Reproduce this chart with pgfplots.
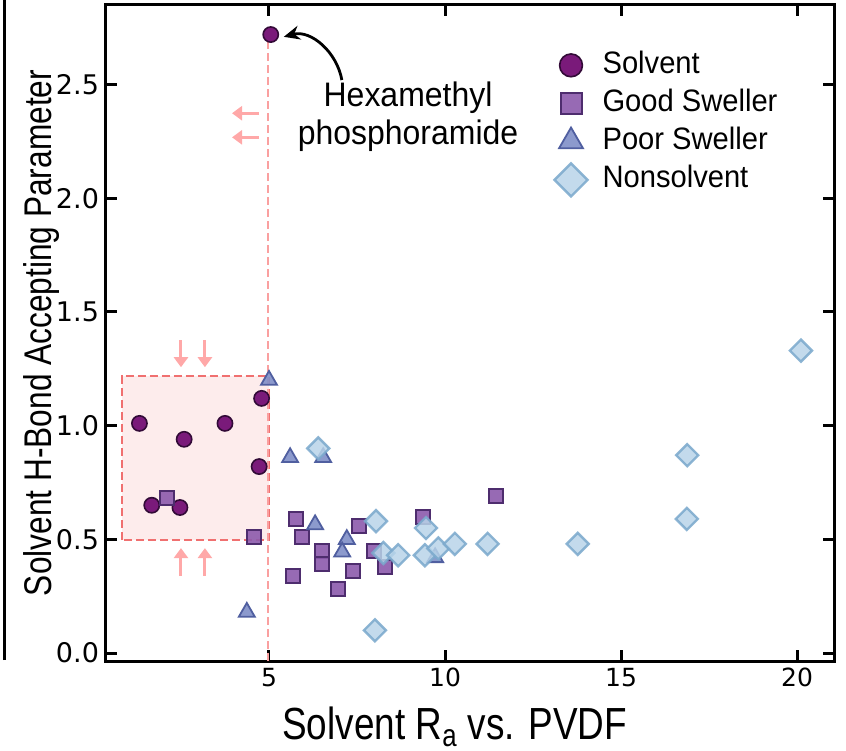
\documentclass[border=0pt]{standalone}
\usepackage{pgfplots}
\pgfplotsset{compat=1.18}
\usetikzlibrary{arrows.meta}
\usepackage{fontspec}
\setmainfont{Liberation Sans}
\newfontfamily\narrowfont[FakeStretch=0.82]{Liberation Sans}
\newfontfamily\legfont[FakeStretch=0.94]{Liberation Sans}
\newfontfamily\tickfont{DejaVu Sans}

\definecolor{solv}{RGB}{122,26,122}
\definecolor{solvedge}{RGB}{50,10,55}
\definecolor{good}{RGB}{140,90,172}
\definecolor{goodedge}{RGB}{78,45,110}
\definecolor{poor}{RGB}{128,143,200}
\definecolor{pooredge}{RGB}{80,95,160}
\definecolor{non}{RGB}{184,212,233}
\definecolor{nonedge}{RGB}{122,168,204}
\definecolor{boxfill}{RGB}{253,236,236}
\definecolor{boxedge}{RGB}{240,112,112}
\definecolor{cutline}{RGB}{250,160,160}
\definecolor{pinkarrow}{RGB}{255,168,168}

\begin{document}
\begin{tikzpicture}
\path[use as bounding box] (-53pt,-44.5pt) rectangle (370pt,330.5pt);
% stray frame edge at the left of the crop
\draw[line width=1.5pt] (-50.5pt,0.5pt) -- (-50.5pt,330.5pt);
\begin{axis}[
    at={(0,0)}, anchor=south west,
    width=364pt, height=328pt, scale only axis,
    xmin=0.37, xmax=21.05,
    ymin=-0.035, ymax=2.85,
    xtick={5,10,15,20},
    ytick={0,0.5,1,1.5,2,2.5},
    /pgf/number format/assume math mode=true,
    xticklabel style={font=\tickfont\fontsize{12.5}{12.5}\selectfont},
    yticklabel style={font=\tickfont\fontsize{13.5}{13.5}\selectfont,
        /pgf/number format/fixed, /pgf/number format/fixed zerofill,
        /pgf/number format/precision=1},
    tick align=inside,
    major tick length=5.5pt,
    every tick/.style={black, line width=1.5pt},
    axis line style={line width=1.5pt},
    xlabel={Solvent R\textsubscript{a} vs. PVDF},
    ylabel={Solvent H-Bond Accepting Parameter},
    xlabel style={font=\narrowfont\fontsize{22.5}{22.5}\selectfont,
        at={(axis description cs:0.479,-0.1204)}, anchor=base},
    ylabel style={font=\narrowfont\fontsize{19.3}{19.3}\selectfont,
        at={(axis description cs:-0.0742,0.5)}, anchor=base},
    legend style={draw=none, fill=none,
        at={(axis description cs:0.6155,0.933)}, anchor=north west,
        font=\legfont\fontsize{15.5}{15.5}\selectfont,
        row sep=3pt, inner sep=0pt,
        nodes={inner sep=1pt, text height=11pt, text depth=3pt},
        /tikz/every odd column/.append style={column sep=6.5pt}},
    legend image post style={/tikz/every mark/.append style={scale=1.5}},
    legend cell align=left,
]

% highlighted region and cut-off line
\draw[dashed, dash pattern=on 4pt off 2pt, line width=1.1pt, draw=boxedge, fill=boxfill]
    (axis cs:0.815,0.497) rectangle (axis cs:5.0,1.218);
\draw[dashed, dash pattern=on 4pt off 2pt, line width=1pt, cutline]
    (axis cs:4.97,-0.035) -- (axis cs:4.97,2.72);

% pink arrows
\draw[pinkarrow, line width=1.5pt, -{Triangle[width=7pt,length=5pt]}]
    (axis cs:4.72,2.374) -- (axis cs:3.95,2.374);
\draw[pinkarrow, line width=1.5pt, -{Triangle[width=7pt,length=5pt]}]
    (axis cs:4.72,2.268) -- (axis cs:3.95,2.268);
\draw[pinkarrow, line width=1.5pt, -{Triangle[width=7pt,length=5pt]}]
    (axis cs:2.5,1.376) -- (axis cs:2.5,1.257);
\draw[pinkarrow, line width=1.5pt, -{Triangle[width=7pt,length=5pt]}]
    (axis cs:3.18,1.376) -- (axis cs:3.18,1.257);
\draw[pinkarrow, line width=1.5pt, -{Triangle[width=7pt,length=5pt]}]
    (axis cs:2.5,0.338) -- (axis cs:2.5,0.4615);
\draw[pinkarrow, line width=1.5pt, -{Triangle[width=7pt,length=5pt]}]
    (axis cs:3.18,0.338) -- (axis cs:3.18,0.4615);

\addplot[only marks, mark=*, mark size=3.8pt,
    mark options={draw=solvedge, fill=solv, line width=0.8pt}] coordinates {
    (5.05,2.72) (1.32,1.01) (2.59,0.94) (3.75,1.01) (4.79,1.12)
    (4.72,0.82) (1.67,0.65) (2.47,0.64)
};
\addlegendentry{Solvent}

\addplot[only marks, mark=square*, mark size=3.5pt,
    mark options={draw=goodedge, fill=good, line width=1pt, fill opacity=0.9}] coordinates {
    (2.09,0.68) (4.58,0.51) (5.77,0.59) (5.93,0.51) (6.52,0.45)
    (6.52,0.39) (5.69,0.34) (7.38,0.36) (6.97,0.28) (7.55,0.56)
    (7.99,0.45) (8.30,0.38) (9.37,0.60) (11.45,0.69)
};
\addlegendentry{Good Sweller}

\addplot[only marks, mark=triangle*, mark size=4.6pt,
    mark options={draw=pooredge, fill=poor, line width=0.9pt, fill opacity=0.9}] coordinates {
    (5.0,1.20) (5.6,0.86) (6.54,0.86) (6.31,0.565) (7.21,0.50)
    (7.08,0.445) (4.37,0.18) (9.72,0.42)
};
\addlegendentry{Poor Sweller}

\addplot[only marks, mark=square*, mark size=3.9pt,
    mark options={rotate=45, draw=nonedge, fill=non, line width=1.2pt, opacity=0.85}] coordinates {
    (6.40,0.90) (8.04,0.58) (8.25,0.44) (8.67,0.43) (9.46,0.55)
    (9.43,0.43) (9.81,0.46) (10.28,0.48) (11.21,0.48) (8.01,0.10)
    (20.11,1.33) (16.88,0.87) (16.87,0.59) (13.77,0.48)
};
\addlegendentry{Nonsolvent}

% annotation
\draw[line width=1.4pt, -{Stealth[length=8pt,width=7pt]}]
    (axis cs:7.07,2.52) to[out=100,in=15] (axis cs:5.42,2.71);
\node[align=center, font=\legfont\fontsize{17}{19}\selectfont]
    at (axis cs:8.95,2.36) {Hexamethyl\\phosphoramide};
\end{axis}
\end{tikzpicture}
\end{document}
